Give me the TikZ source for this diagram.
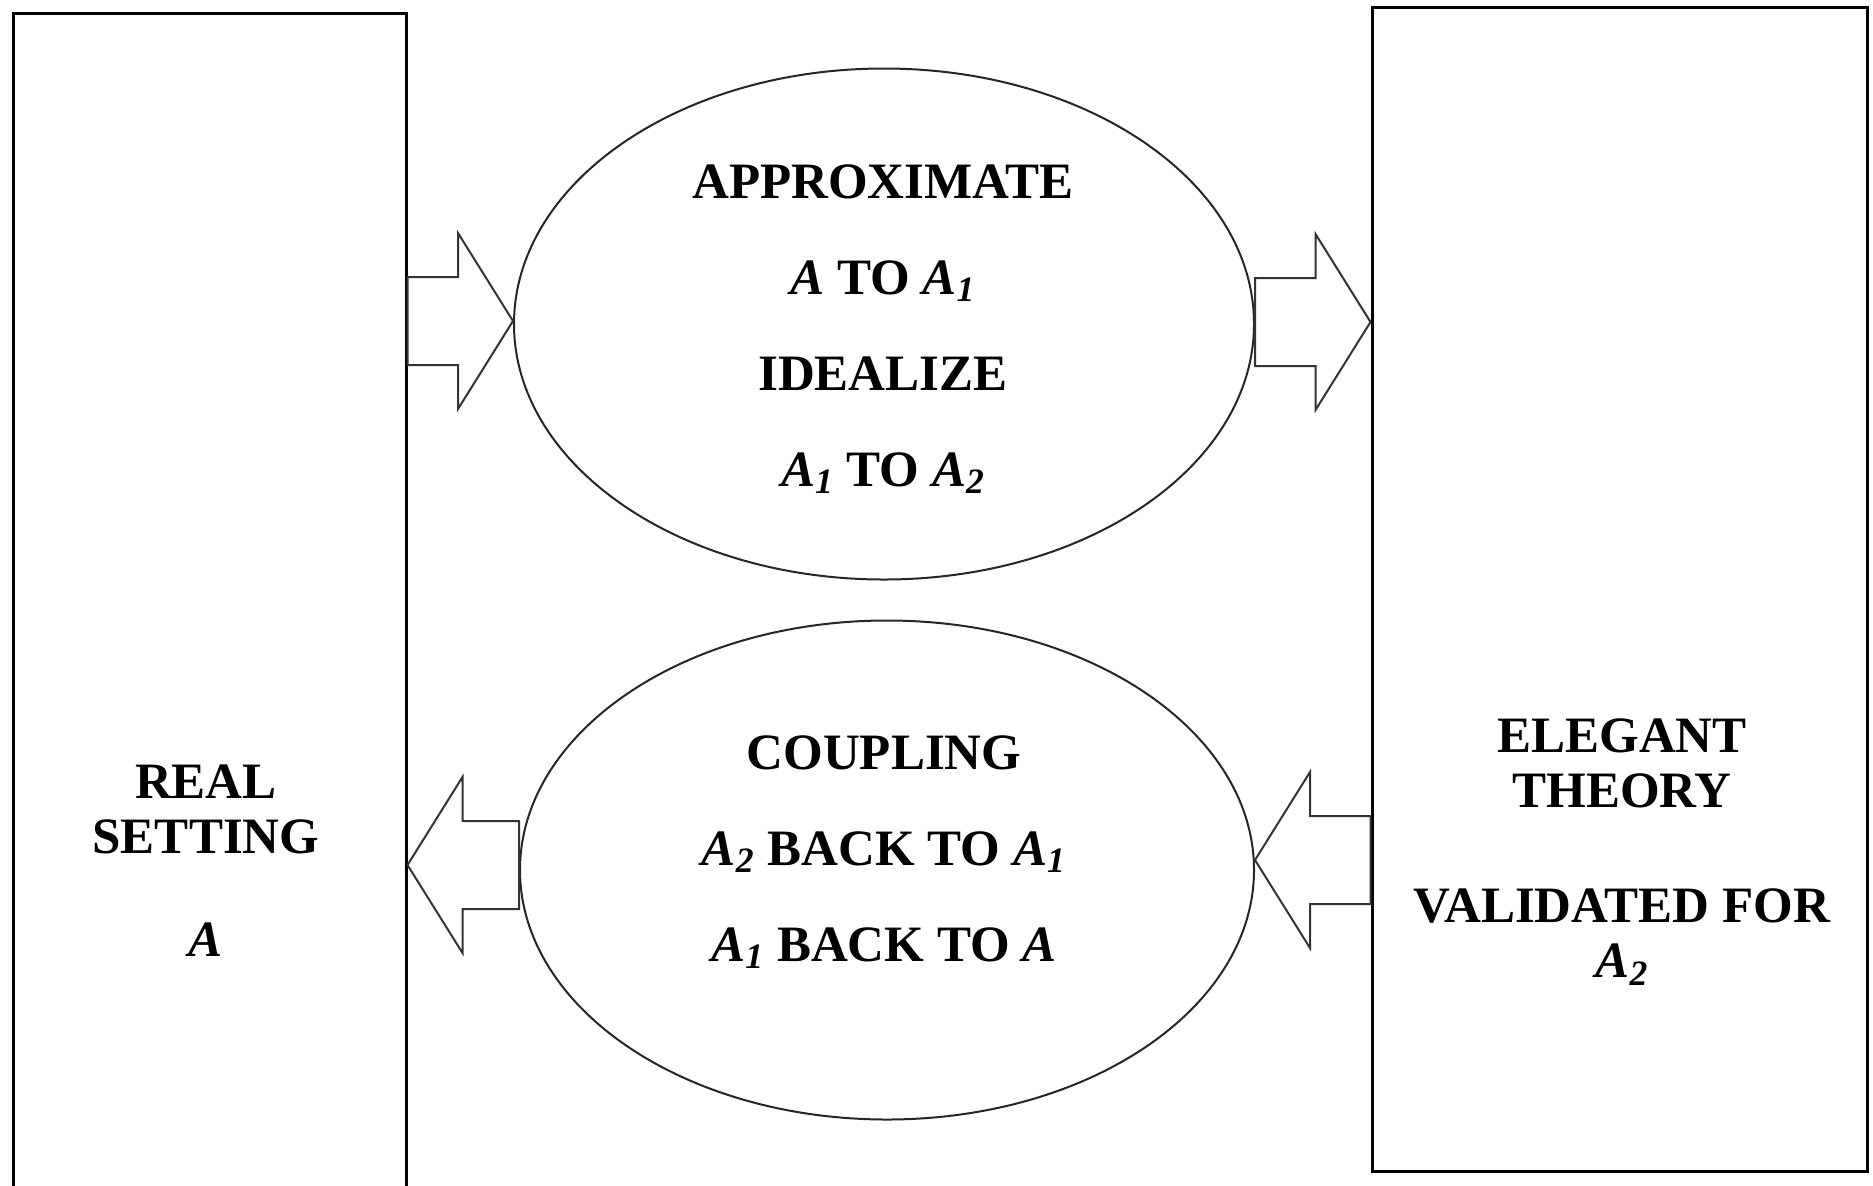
\documentclass[tikz,border=0pt]{standalone}
\usepackage{fontspec}
\setmainfont{Liberation Serif}
\usetikzlibrary{calc,fit,shapes.geometric}

\tikzset{
  box/.style={draw=black,line width=1.5pt,inner sep=0pt},
  oval/.style={ellipse,draw=black!85,line width=1pt,inner sep=0pt},
  ovaltext/.style={align=center,font=\fontsize{25.5}{48}\selectfont\bfseries},
  boxtext/.style={align=center,font=\fontsize{25.5}{27.5}\selectfont\bfseries},
  blk/.style={draw=black!80,line width=1pt,line join=miter},
}
\newcommand{\Asub}[1]{\textit{A}\textsubscript{\textit{#1}}}
\newcommand{\blockarrow}[3]{%
  \draw[blk] ($(#1)+(0,44)$) -- ($(#2)+({-55*(#3)},44)$) -- ($(#2)+({-55*(#3)},88)$) -- (#2)
    -- ($(#2)+({-55*(#3)},-88)$) -- ($(#2)+({-55*(#3)},-44)$) -- ($(#1)+(0,-44)$) -- cycle;}

\begin{document}
\begin{tikzpicture}[x=0.5pt,y=-0.5pt]
		\clip (0,0) rectangle (1873,1185);
		\fill[white] (0,0) rectangle (1873,1185);

		\node[box,fit={(13,13) (406,1240)}] (real) {};
		\node[box,fit={(1372,7) (1867,1171)}] (theory) {};
		\node[oval,minimum width=370pt,minimum height=255.5pt] (approx) at (884,324) {};
		\node[oval,minimum width=367pt,minimum height=249.5pt] (couple) at (887,870) {};

		\node[boxtext] (realtxt) at (206,861) {REAL\\SETTING\\[24pt]\textit{A}};
		\node[boxtext] (theorytxt) at (1622,852) {ELEGANT\\THEORY\\[30pt]VALIDATED FOR\\\Asub{2}};
		\node[ovaltext] (approxtxt) at (883,329) {APPROXIMATE\\\textit{A} TO \Asub{1}\\IDEALIZE\\\Asub{1} TO \Asub{2}};
		\node[ovaltext] (coupletxt) at (884,852) {COUPLING\\\Asub{2} BACK TO \Asub{1}\\\Asub{1} BACK TO \textit{A}};

		\coordinate (a1) at ($(approx.west)+(0,-3)$);
		\coordinate (a2) at ($(approx.east)+(0,-2)$);
		\coordinate (c1) at ($(couple.west)+(0,-5)$);
		\coordinate (c2) at ($(couple.east)+(0,-10)$);
		\coordinate (t1) at (real.east |- a1);
		\coordinate (t2) at (theory.west |- a2);
		\coordinate (t3) at (real.east |- c1);
		\coordinate (t4) at (theory.west |- c2);

		\blockarrow{t1}{a1}{1}
		\blockarrow{a2}{t2}{1}
		\blockarrow{c1}{t3}{-1}
		\blockarrow{t4}{c2}{-1}
\end{tikzpicture}
\end{document}
